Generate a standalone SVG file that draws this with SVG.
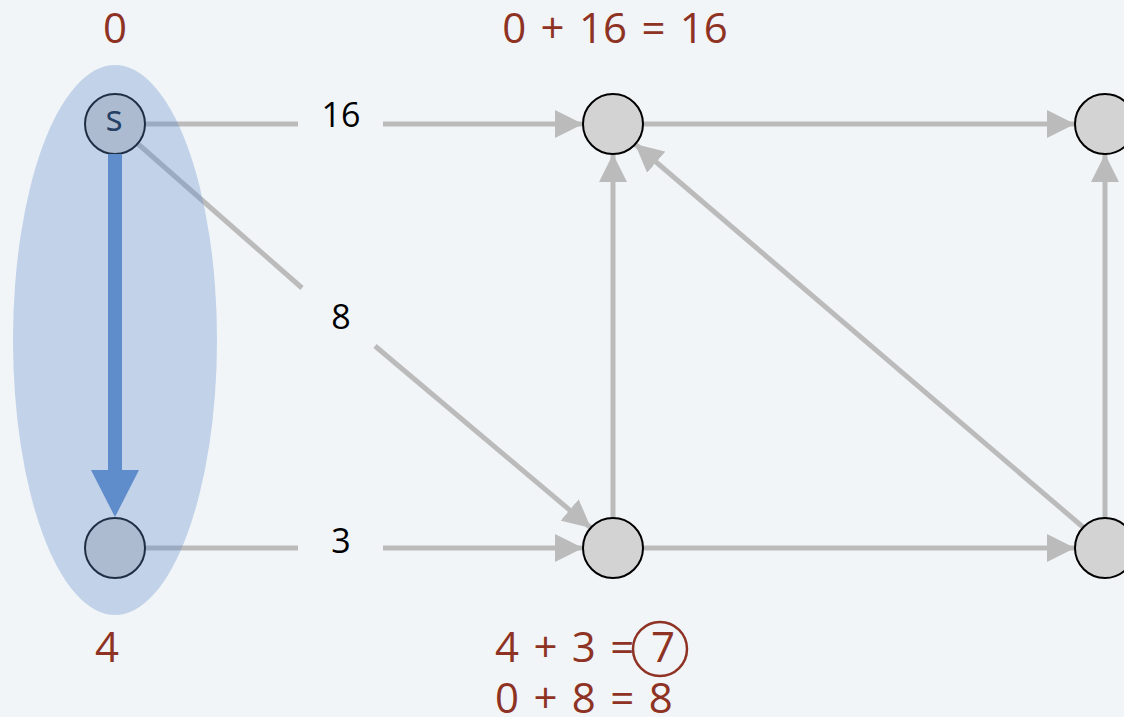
<svg xmlns="http://www.w3.org/2000/svg" width="1124" height="717" viewBox="0 0 1124 717">
<defs>
<style>
.e{stroke:#bbbbbb;stroke-width:5;fill:none}
.n{fill:#d3d3d3;stroke:#000;stroke-width:2}
.red{font-family:"Open Sans","Liberation Sans",sans-serif;font-size:42px;fill:#8e3324;word-spacing:3.5px}
.lbl{font-family:"Open Sans","Liberation Sans",sans-serif;font-size:34px;fill:#000;text-anchor:middle}
</style>
<marker id="ah" markerUnits="userSpaceOnUse" markerWidth="30" markerHeight="28" refX="28" refY="14" orient="auto">
<path d="M0,0 L28,14 L0,28 Z" fill="#bbbbbb"/>
</marker>
</defs>
<rect width="1124" height="717" fill="#f2f5f8"/>
<g id="connectors">
<line class="e" x1="145" y1="124" x2="298" y2="124"/>
<line class="e" x1="383" y1="124" x2="583" y2="124" marker-end="url(#ah)"/>
<line class="e" x1="137" y1="143" x2="302" y2="288"/>
<line class="e" x1="375" y1="346" x2="591" y2="528" marker-end="url(#ah)"/>
<line class="e" x1="145" y1="548" x2="298" y2="548"/>
<line class="e" x1="383" y1="548" x2="583" y2="548" marker-end="url(#ah)"/>
<line class="e" x1="613" y1="518" x2="613" y2="154" marker-end="url(#ah)"/>
<line class="e" x1="643" y1="124" x2="1075" y2="124" marker-end="url(#ah)"/>
<line class="e" x1="643" y1="548" x2="1075" y2="548" marker-end="url(#ah)"/>
<line class="e" x1="1084" y1="528" x2="635" y2="144" marker-end="url(#ah)"/>
<line class="e" x1="1105" y1="518" x2="1105" y2="154" marker-end="url(#ah)"/>
</g>
<g id="node-s"><circle class="n" cx="115" cy="124" r="30"/><text x="114" y="131" text-anchor="middle" font-family="Open Sans, Liberation Sans, sans-serif" font-size="36" fill="#0a1a33">s</text></g>
<g id="node-a"><circle class="n" cx="115" cy="548" r="30"/></g>
<g id="node-b"><circle class="n" cx="613" cy="124" r="30"/></g>
<g id="node-c"><circle class="n" cx="1105" cy="124" r="30"/></g>
<g id="node-d"><circle class="n" cx="613" cy="548" r="30"/></g>
<g id="node-e"><circle class="n" cx="1105" cy="548" r="30"/></g>
<g id="region"><ellipse cx="115" cy="340" rx="102" ry="275" fill="#5f8ccb" fill-opacity="0.33"/></g>
<g id="tree-edge">
<line x1="115" y1="154" x2="115" y2="472" stroke="#5f8ccb" stroke-width="14"/>
<path d="M91,470 L139,470 L115,517 Z" fill="#5f8ccb"/>
</g>
<g id="labels">
<text class="lbl" x="341" y="127">16</text>
<text class="lbl" x="341" y="329">8</text>
<text class="lbl" x="341" y="553">3</text>
<text class="red" x="115" y="43" text-anchor="middle">0</text>
<text class="red" x="107" y="662" text-anchor="middle">4</text>
<text class="red" x="615" y="43" text-anchor="middle">0 + 16 = 16</text>
<text class="red" x="495" y="662">4 + 3 =</text>
<text class="red" x="663" y="662" text-anchor="middle">7</text>
<circle cx="660" cy="649" r="27" fill="none" stroke="#8e3324" stroke-width="2.5"/>
<text class="red" x="495" y="713">0 + 8 = 8</text>
</g>
</svg>
